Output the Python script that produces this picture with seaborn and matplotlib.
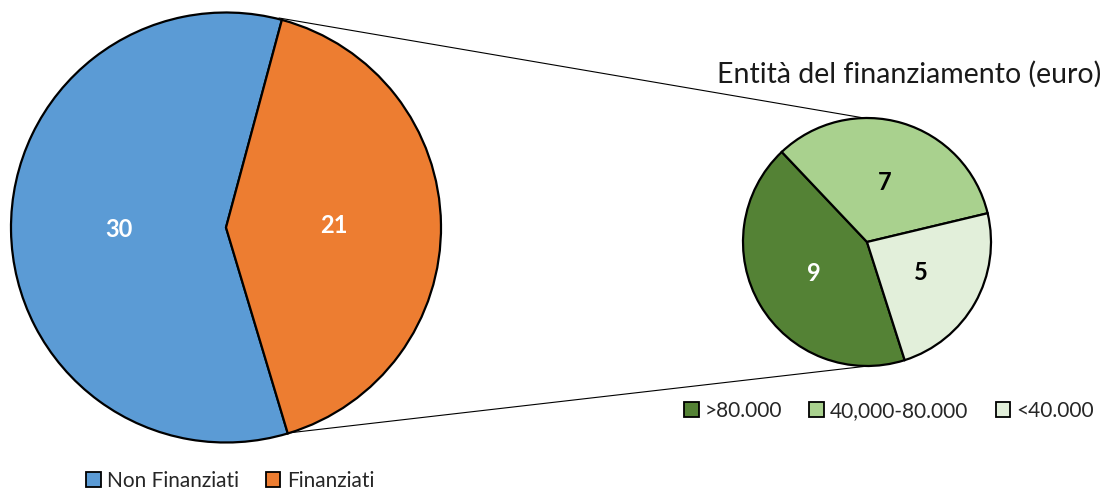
import matplotlib
matplotlib.use("Agg")
import matplotlib.pyplot as plt
from matplotlib.patches import Patch
import seaborn as sns

# Data
main_labels = ["Non Finanziati", "Finanziati"]
main_values = [30, 21]
sub_labels = [">80.000", "40,000-80.000", "<40.000"]
sub_values = [9, 7, 5]
sub_title = "Entità del finanziamento (euro)"

sns.set_style("white")
plt.rcParams["font.family"] = ["Lato", "DejaVu Sans"]

main_colors = ["#5B9BD5", "#ED7D31"]
sub_colors = sns.color_palette(["#548235", "#A9D18E", "#E2EFDA"])

W, H = 1104, 490
fig = plt.figure(figsize=(W / 100, H / 100), dpi=100)
ax = fig.add_axes([0, 0, 1, 1])

edge = dict(edgecolor="black", linewidth=1.6)

# Main pie
big_c, big_r = (226, H - 227.5), 215
wedges1, texts1 = ax.pie(
    main_values, colors=main_colors, labels=[str(v) for v in main_values],
    labeldistance=0.5, startangle=-73.3, counterclock=False,
    center=big_c, radius=big_r, wedgeprops=edge,
    textprops=dict(fontsize=17, fontweight="bold", color="white"),
    frame=True,
)

# Breakdown pie
sm_c, sm_r = (867, H - 242), 124
wedges2, texts2 = ax.pie(
    sub_values, colors=sub_colors, labels=[str(v) for v in sub_values],
    labeldistance=0.5, startangle=-72.3, counterclock=False,
    center=sm_c, radius=sm_r, wedgeprops=edge,
    textprops=dict(fontsize=17, fontweight="bold", color="black"),
    frame=True,
)
texts2[0].set_color("white")
for t in list(texts1) + list(texts2):
    t.set_ha("center")
    t.set_va("center")

ax.set_xlim(0, W)
ax.set_ylim(0, H)
ax.set_aspect("equal")
ax.axis("off")

# Connector lines between the financed slice and the breakdown pie
ax.plot([279, 864], [H - 18, H - 118], color="black", lw=0.8, zorder=0)
ax.plot([288, 868], [H - 433, H - 366], color="black", lw=0.8, zorder=0)

ax.text(909, H - 74, sub_title, ha="center", va="center", fontsize=20.5, color="#1a1a1a")

leg_kw = dict(frameon=False, handlelength=0.7, handleheight=0.7,
              handletextpad=0.3, columnspacing=1.3, fontsize=15,
              bbox_transform=ax.transData, loc="center")
h1 = [Patch(facecolor=c, edgecolor="black", linewidth=1.3) for c in main_colors]
leg1 = ax.legend(h1, main_labels, ncol=2, bbox_to_anchor=(230, H - 481), **leg_kw)
ax.add_artist(leg1)
h2 = [Patch(facecolor=c, edgecolor="black", linewidth=1.3) for c in sub_colors]
ax.legend(h2, sub_labels, ncol=3, bbox_to_anchor=(889, H - 411), **leg_kw)

fig.savefig("out.png", dpi=100, facecolor="white")
